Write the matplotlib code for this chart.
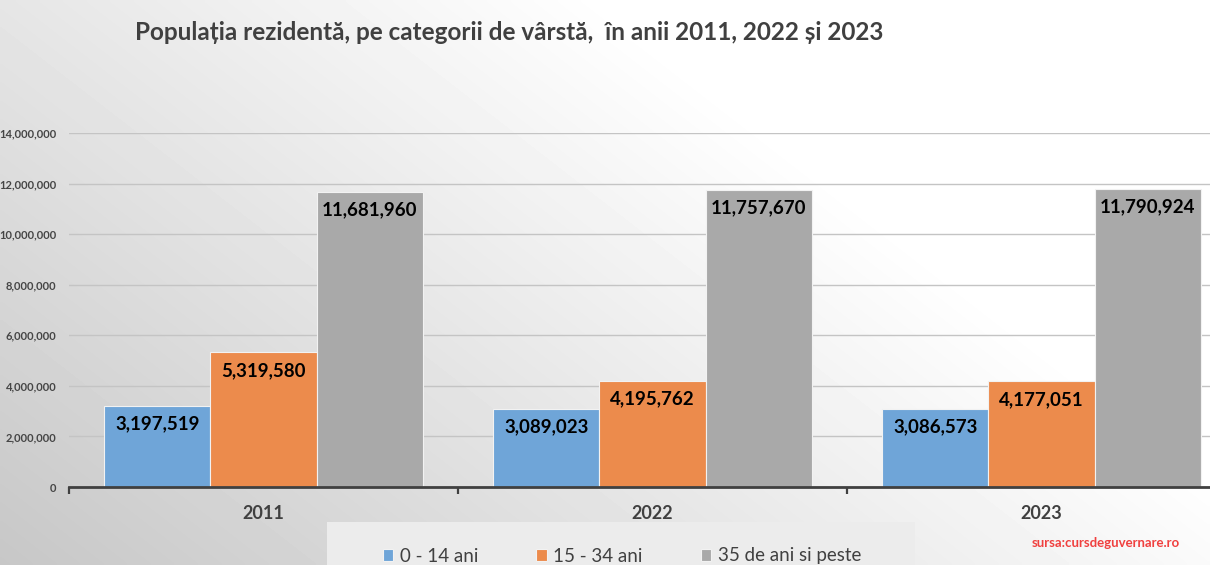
import numpy as np
import matplotlib
matplotlib.use('Agg')
import matplotlib.pyplot as plt
from matplotlib.patches import Rectangle
from matplotlib.ticker import FuncFormatter, FixedLocator

plt.rcParams['font.family'] = ['Lato', 'DejaVu Sans']

# date
years = ['2011', '2022', '2023']
series_names = ['0 - 14 ani', '15 - 34 ani', '35 de ani si peste']
age_0_14 = [3197519, 3089023, 3086573]
age_15_34 = [5319580, 4195762, 4177051]
age_35_plus = [11681960, 11757670, 11790924]
series_values = [age_0_14, age_15_34, age_35_plus]
colors = ['#6fa5d8', '#ec8b4c', '#a9a9a9']
title = 'Populația rezidentă, pe categorii de vârstă,  în anii 2011, 2022 și 2023'
source = 'sursa:cursdeguvernare.ro'

W, H = 1210, 565
fig = plt.figure(figsize=(W / 100, H / 100), dpi=100)

# fundal cu gradient (stanga gri, dreapta sus alb)
bg = fig.add_axes([0, 0, 1, 1], zorder=-10)
xx, yy = np.meshgrid(np.linspace(0, 1, 300), np.linspace(0, 1, 150))
shade = np.clip(0.78 + 0.20 * xx + 0.12 * yy, 0, 1)
bg.imshow(shade, cmap='gray', vmin=0, vmax=1, origin='lower',
          extent=[0, 1, 0, 1], aspect='auto', interpolation='bilinear')
bg.set_axis_off()

# caseta legendei
fig.patches.append(Rectangle((327 / W, 0), (915 - 327) / W, (565 - 522) / H,
                             transform=fig.transFigure, facecolor='#ececec',
                             edgecolor='none', zorder=-5))

ax = fig.add_axes([69 / W, (H - 487) / H, (1236 - 69) / W, (487 - 133) / H])
ax.patch.set_alpha(0)

x = np.arange(len(years))
bw = 0.273
bars = []
for i, (name, vals, col) in enumerate(zip(series_names, series_values, colors)):
    b = ax.bar(x + (i - 1) * bw, vals, bw, color=col, label=name,
               edgecolor='#f2f2f2', linewidth=0.8, zorder=3)
    bars.append(b)
    for rect, v in zip(b, vals):
        ax.annotate(f'{v:,}', (rect.get_x() + rect.get_width() / 2, v),
                    xytext=(0, -13), textcoords='offset points',
                    ha='center', va='center', fontsize=13.5,
                    fontweight='bold', color='black', zorder=4)

ax.set_xlim(-0.5, 2.5)
ax.set_ylim(0, 14000000)
ax.set_yticks(np.arange(0, 14000001, 2000000))
ax.yaxis.set_major_formatter(FuncFormatter(lambda v, p: f'{int(v):,}'))
ax.grid(axis='y', color='#c4c4c4', linewidth=1, zorder=0)
ax.tick_params(axis='y', length=0, pad=9, labelsize=8, labelcolor='#454545')
for lbl in ax.get_yticklabels():
    lbl.set_fontweight('bold')

ax.set_xticks(x)
ax.set_xticklabels(years, fontsize=13, fontweight='bold', color='#404040')
ax.tick_params(axis='x', which='major', length=0, pad=13)
ax.xaxis.set_minor_locator(FixedLocator([-0.5, 0.5, 1.5, 2.5]))
ax.tick_params(axis='x', which='minor', length=5, width=1.6, color='#404040',
               direction='out')

for s in ['top', 'right', 'left']:
    ax.spines[s].set_visible(False)
ax.spines['bottom'].set_color('#404040')
ax.spines['bottom'].set_linewidth(2)
ax.spines['bottom'].set_zorder(5)

fig.text(135 / W, 1 - 32 / H, title, fontsize=17.5, fontweight='bold',
         color='#404040', ha='left', va='center')

fig.legend(handles=bars, labels=series_names, ncol=3, frameon=False,
           loc='center', bbox_to_anchor=(622 / W, 1 - 556 / H),
           fontsize=13.5, handlelength=0.55, handleheight=0.55,
           handletextpad=0.35, columnspacing=3.1, labelcolor='#404040')

fig.text(1032 / W, 1 - 543 / H, source, fontsize=9.5, fontweight='bold',
         color='#f0403f', ha='left', va='center')

fig.savefig('out.png', dpi=100)
